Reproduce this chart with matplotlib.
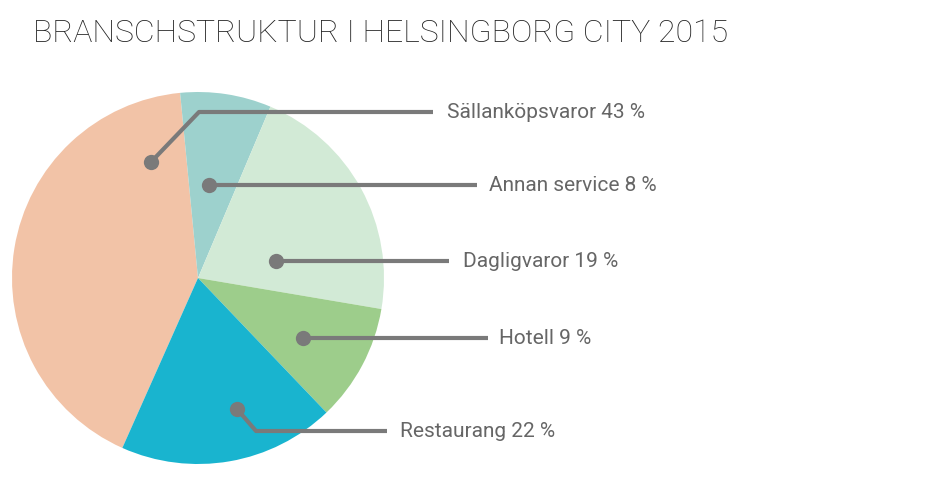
import matplotlib.pyplot as plt

# data
categories = ["Sällanköpsvaror", "Annan service", "Dagligvaror", "Hotell", "Restaurang"]
pct_labels = [43, 8, 19, 9, 22]
# slice shares as drawn in the picture (the original does not match its own labels)
shares = [41.8, 7.9, 21.3, 10.2, 18.8]
colors = ["#F2C3A7", "#9DD1CD", "#D2EAD6", "#9DCD8B", "#19B4CF"]

W, H = 941, 489
fig = plt.figure(figsize=(W / 100, H / 100), dpi=100)
ax = fig.add_axes([0, 0, 1, 1])
ax.set_xlim(0, W)
ax.set_ylim(0, H)
ax.set_aspect("equal")
ax.axis("off")

cx, cy, r = 198, H - 279, 186
ax.pie(shares, colors=colors, center=(cx, cy), radius=r, startangle=246,
       counterclock=False, wedgeprops=dict(linewidth=0))
ax.set_xlim(0, W)
ax.set_ylim(0, H)

# leader lines: dot, optional elbow, line end, label x  (image pixel coords)
leaders = [
    [(151, 163), (199, 113), (433, 113), 447],
    [(209, 186), None, (477, 186), 489],
    [(276, 262), None, (449, 262), 463],
    [(303, 339), None, (488, 339), 499],
    [(237, 410), (256, 432), (387, 432), 400],
]
line_col = "#7a7a7a"
for (dot, elbow, end, lx), name, p in zip(leaders, categories, pct_labels):
    pts = [dot] + ([elbow] if elbow else []) + [end]
    xs = [q[0] for q in pts]
    ys = [H - q[1] for q in pts]
    ax.plot(xs, ys, color=line_col, lw=3, solid_capstyle="butt", zorder=3)
    ax.plot(dot[0], H - dot[1], "o", ms=11, color=line_col, mec="none", zorder=4)
    ax.text(lx, H - end[1], f"{name} {p} %", fontsize=15, family="Roboto",
            color="#666666", va="center", ha="left")

fig.text(33 / W, 1 - 33 / H, "BRANSCHSTRUKTUR I HELSINGBORG CITY 2015",
         fontsize=23, family="Roboto", fontweight="light", color="#222222",
         va="center", ha="left")

fig.savefig("out.png", dpi=100)
